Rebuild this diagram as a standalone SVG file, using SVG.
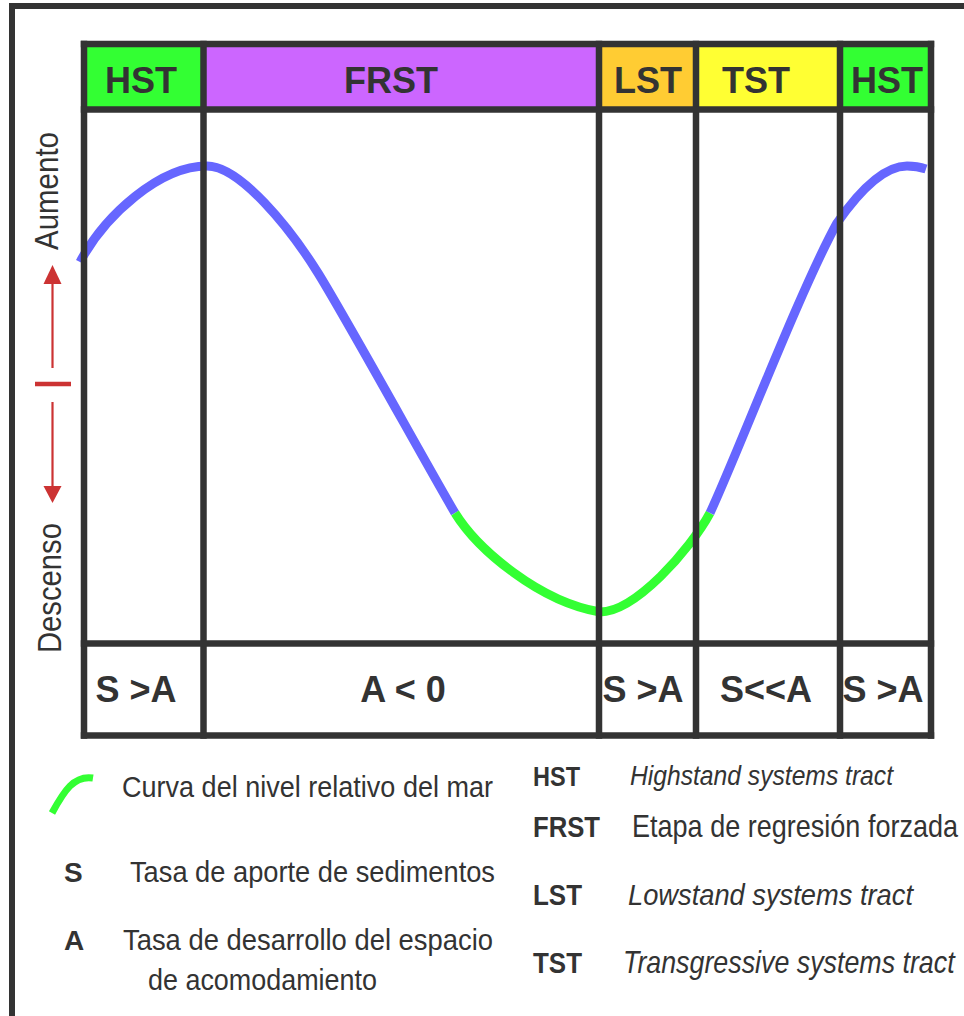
<svg xmlns="http://www.w3.org/2000/svg" width="964" height="1016" viewBox="0 0 964 1016">
<defs>
<style>
.grid{stroke:#333333;stroke-width:6.5;fill:none}
.hdr{font-family:"Liberation Sans",Arial,sans-serif;font-weight:bold;font-size:36px;fill:#333333;text-anchor:middle}
.lab{font-family:"Liberation Sans",Arial,sans-serif;fill:#333333}
.b{font-weight:bold}
.i{font-style:italic}
.curve{fill:none;stroke-width:9;stroke-linecap:butt}
.red{stroke:#cc3333;fill:none}
</style>
</defs>
<rect x="0" y="0" width="964" height="1016" fill="#ffffff"/>
<rect x="12" y="6" width="1000" height="1100" fill="none" stroke="#333333" stroke-width="6"/>

<g id="header">
  <g id="h-hst1"><rect x="84" y="44" width="119.5" height="65.5" fill="#33ff33"/><text class="hdr" x="141" y="93">HST</text></g>
  <g id="h-frst"><rect x="203.5" y="44" width="395.5" height="65.5" fill="#cc66ff"/><text class="hdr" x="391" y="93">FRST</text></g>
  <g id="h-lst"><rect x="599" y="44" width="97" height="65.5" fill="#ffcc33"/><text class="hdr" x="648" y="93">LST</text></g>
  <g id="h-tst"><rect x="696" y="44" width="144" height="65.5" fill="#ffff33"/><text class="hdr" x="756" y="93">TST</text></g>
  <g id="h-hst2"><rect x="840" y="44" width="91" height="65.5" fill="#33ff33"/><text class="hdr" x="887" y="93">HST</text></g>
</g>

<g id="connectors">
  <path class="curve" stroke="#6666ff" d="M80,262 C105,215 160,166 207,166 C240,166 290,228 318,273 C346,318 428,467 455,513"/>
  <path class="curve" stroke="#33ff33" d="M455,513 C478,550 540,602 600,612 C635,612 690,550 710,513"/>
  <path class="curve" stroke="#6666ff" d="M710,513 C735,460 800,290 837,223 C860,190 885,166 907,166 C915,166 920,167 926,169"/>
</g>

<g id="grid">
  <line class="grid" x1="84" y1="40.8" x2="84" y2="738.8"/>
  <line class="grid" x1="203.5" y1="40.8" x2="203.5" y2="738.8"/>
  <line class="grid" x1="599" y1="40.8" x2="599" y2="738.8"/>
  <line class="grid" x1="696" y1="40.8" x2="696" y2="738.8"/>
  <line class="grid" x1="840" y1="40.8" x2="840" y2="738.8"/>
  <line class="grid" x1="931" y1="40.8" x2="931" y2="738.8"/>
  <line class="grid" x1="80.8" y1="44" x2="934.2" y2="44"/>
  <line class="grid" x1="80.8" y1="109.5" x2="934.2" y2="109.5"/>
  <line class="grid" x1="80.8" y1="643.5" x2="934.2" y2="643.5"/>
  <line class="grid" x1="80.8" y1="735.5" x2="934.2" y2="735.5"/>
</g>

<g id="bottom">
  <g id="b-hst1"><text class="hdr" x="136" y="702">S &gt;A</text></g>
  <g id="b-frst"><text class="hdr" x="403" y="702">A &lt; 0</text></g>
  <g id="b-lst"><text class="hdr" x="643" y="702">S &gt;A</text></g>
  <g id="b-tst"><text class="hdr" x="766" y="702">S&lt;&lt;A</text></g>
  <g id="b-hst2"><text class="hdr" x="883" y="702">S &gt;A</text></g>
</g>

<g id="axis">
  <text class="lab" font-size="33" transform="translate(58,250) rotate(-90)" textLength="118" lengthAdjust="spacingAndGlyphs">Aumento</text>
  <text class="lab" font-size="33" transform="translate(61,653) rotate(-90)" textLength="130" lengthAdjust="spacingAndGlyphs">Descenso</text>
  <line class="red" stroke-width="2.2" x1="52.5" y1="281" x2="52.5" y2="368"/>
  <polygon points="52.5,265 43.5,284 61.5,284" fill="#cc3333"/>
  <line class="red" stroke-width="4.5" x1="35" y1="384" x2="71" y2="384"/>
  <line class="red" stroke-width="2.2" x1="52.5" y1="402" x2="52.5" y2="489"/>
  <polygon points="52.5,503 43.5,486 61.5,486" fill="#cc3333"/>
</g>

<g id="legend">
  <g id="leg-curve">
    <path d="M52,813 C64,791 74,775 93,778" fill="none" stroke="#33ff33" stroke-width="7"/>
    <text class="lab" font-size="30" x="122" y="797" textLength="371" lengthAdjust="spacingAndGlyphs">Curva del nivel relativo del mar</text>
  </g>
  <g id="leg-s">
    <text class="lab b" font-size="28" x="64" y="882">S</text>
    <text class="lab" font-size="30" x="130" y="882" textLength="365" lengthAdjust="spacingAndGlyphs">Tasa de aporte de sedimentos</text>
  </g>
  <g id="leg-a">
    <text class="lab b" font-size="28" x="64" y="950">A</text>
    <text class="lab" font-size="30" x="123" y="950" textLength="370" lengthAdjust="spacingAndGlyphs">Tasa de desarrollo del espacio</text>
    <text class="lab" font-size="30" x="148" y="990" textLength="229" lengthAdjust="spacingAndGlyphs">de acomodamiento</text>
  </g>
  <g id="leg-hst">
    <text class="lab b" font-size="28" x="533" y="786" textLength="47" lengthAdjust="spacingAndGlyphs">HST</text>
    <text class="lab i" font-size="27" x="630" y="785" textLength="263" lengthAdjust="spacingAndGlyphs">Highstand systems tract</text>
  </g>
  <g id="leg-frst">
    <text class="lab b" font-size="29" x="533" y="837" textLength="67" lengthAdjust="spacingAndGlyphs">FRST</text>
    <text class="lab" font-size="31" transform="translate(632,837) scale(0.872,1)">Etapa de regresión forzada</text>
  </g>
  <g id="leg-lst">
    <text class="lab b" font-size="30" x="533" y="905" textLength="49" lengthAdjust="spacingAndGlyphs">LST</text>
    <text class="lab i" font-size="30" x="628" y="905" textLength="285" lengthAdjust="spacingAndGlyphs">Lowstand systems tract</text>
  </g>
  <g id="leg-tst">
    <text class="lab b" font-size="30" x="533" y="973" textLength="49" lengthAdjust="spacingAndGlyphs">TST</text>
    <text class="lab i" font-size="31" transform="translate(623,973) scale(0.865,1)">Transgressive systems tract</text>
  </g>
</g>
</svg>
